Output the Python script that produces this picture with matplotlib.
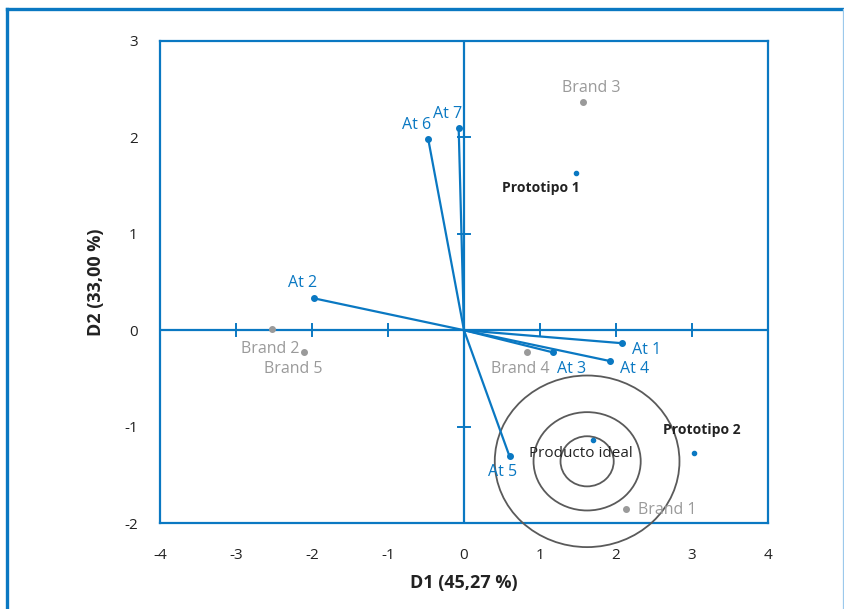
import matplotlib
matplotlib.use('Agg')
import matplotlib.pyplot as plt
from matplotlib.patches import Ellipse
from matplotlib.lines import Line2D

plt.rcParams['font.family'] = ['Open Sans', 'DejaVu Sans']
plt.rcParams['axes.unicode_minus'] = False

BLUE = '#0a78c2'
GREY = '#9a9a9a'
DARK = '#222222'

# attribute vectors (D1, D2)
att_names = ['At 1', 'At 2', 'At 3', 'At 4', 'At 5', 'At 6', 'At 7']
att_x = [2.08, -1.97, 1.17, 1.92, 0.60, -0.47, -0.07]
att_y = [-0.135, 0.33, -0.23, -0.32, -1.31, 1.98, 2.10]

# brands
brand_names = ['Brand 1', 'Brand 2', 'Brand 3', 'Brand 4', 'Brand 5']
brand_x = [2.13, -2.53, 1.57, 0.83, -2.10]
brand_y = [-1.85, 0.01, 2.37, -0.23, -0.23]

# prototypes and ideal product
proto_names = ['Prototipo 1', 'Prototipo 2', 'Producto ideal']
proto_x = [1.47, 3.03, 1.70]
proto_y = [1.63, -1.27, -1.14]

# preference circles around ideal point
circ_cx, circ_cy = 1.62, -1.36
circ_w = [0.70, 1.41, 2.43]
circ_h = [0.52, 1.02, 1.78]

xticks = [-4, -3, -2, -1, 0, 1, 2, 3, 4]
yticks = [-2, -1, 0, 1, 2, 3]

fig = plt.figure(figsize=(8.45, 6.09), dpi=100)
ax = fig.add_axes([0.1893, 0.1412, 0.7196, 0.7915])
ax.set_xlim(-4, 4)
ax.set_ylim(-2, 3)

for s in ax.spines.values():
    s.set_color(BLUE)
    s.set_linewidth(1.6)

ax.set_xticks(xticks)
ax.set_yticks(yticks)
ax.tick_params(length=0, labelsize=11, labelcolor=DARK, pad=18)
ax.tick_params(axis='y', pad=16)
ax.set_xlabel('D1 (45,27 %)', fontsize=13, fontweight='bold', color=DARK, labelpad=8)
ax.set_ylabel('D2 (33,00 %)', fontsize=13, fontweight='bold', color=DARK, labelpad=14)

# crosshair with tick marks
ax.axhline(0, color=BLUE, lw=1.6, zorder=2)
ax.axvline(0, color=BLUE, lw=1.6, zorder=2)
for t in xticks[1:-1]:
    if t != 0:
        ax.plot([t, t], [-0.06, 0.06], color=BLUE, lw=1.4, zorder=2)
for t in yticks[1:-1]:
    if t != 0:
        ax.plot([-0.08, 0.08], [t, t], color=BLUE, lw=1.4, zorder=2)

# circles (drawn unclipped, they spill below the frame)
for w, h in zip(circ_w, circ_h):
    e = Ellipse((circ_cx, circ_cy), w, h, fill=False, edgecolor='#5a5a5a', lw=1.3,
                clip_on=False, zorder=3)
    ax.add_patch(e)

# vectors
for x, y in zip(att_x, att_y):
    ax.plot([0, x], [0, y], color=BLUE, lw=1.6, zorder=4)
ax.plot(att_x, att_y, 'o', color=BLUE, ms=4, zorder=5)

att_lab = [(2.21, -0.21, 'left'), (-2.13, 0.49, 'center'), (1.42, -0.40, 'center'),
           (2.24, -0.40, 'center'), (0.51, -1.47, 'center'), (-0.63, 2.13, 'center'),
           (-0.22, 2.24, 'center')]
for name, (lx, ly, ha) in zip(att_names, att_lab):
    ax.text(lx, ly, name, color=BLUE, fontsize=11.5, ha=ha, va='center', zorder=6)

ax.plot(brand_x, brand_y, 'o', color=GREY, ms=4, zorder=5)
brand_lab = [(2.67, -1.86), (-2.55, -0.19), (1.68, 2.51), (0.74, -0.40), (-2.25, -0.40)]
for name, (lx, ly) in zip(brand_names, brand_lab):
    ax.text(lx, ly, name, color=GREY, fontsize=11.5, ha='center', va='center', zorder=6)

ax.plot(proto_x, proto_y, 'o', color=BLUE, ms=3, zorder=5)
proto_lab = [(1.01, 1.48, 'bold'), (3.13, -1.04, 'bold'), (1.54, -1.28, 'normal')]
for name, (lx, ly, fw) in zip(proto_names, proto_lab):
    ax.text(lx, ly, name, color=DARK, fontsize=10 if fw == 'bold' else 11,
            fontweight=fw, ha='center', va='center', zorder=6)

# outer page frame
fig.add_artist(Line2D([7/845, 7/845], [-0.01, 1 - 9/609], color=BLUE, lw=2.4,
                      transform=fig.transFigure))
fig.add_artist(Line2D([7/845, 1.0], [1 - 9/609, 1 - 9/609], color=BLUE, lw=2.4,
                      transform=fig.transFigure))
fig.add_artist(Line2D([843/845, 843/845], [-0.01, 1 - 9/609], color='#9cc9ec', lw=0.9,
                      transform=fig.transFigure))

fig.savefig('out.png', dpi=100)
